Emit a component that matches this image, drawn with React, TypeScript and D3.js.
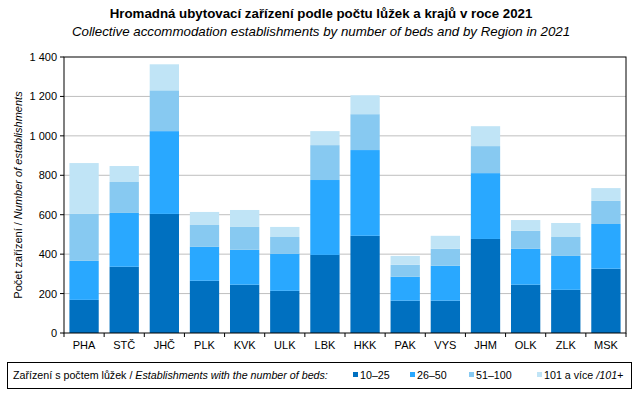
import React from "react";
import * as d3 from "d3";

const regions = ["PHA", "STČ", "JHČ", "PLK", "KVK", "ULK", "LBK", "HKK", "PAK", "VYS", "JHM", "OLK", "ZLK", "MSK"];
const beds10to25 = [168, 336, 604, 265, 245, 214, 396, 493, 164, 164, 477, 245, 219, 326];
const beds26to50 = [198, 273, 420, 172, 177, 187, 380, 435, 121, 177, 334, 182, 172, 227];
const beds51to100 = [238, 157, 207, 111, 116, 86, 177, 182, 61, 86, 137, 91, 96, 117];
const beds101plus = [258, 81, 132, 66, 86, 51, 71, 96, 45, 66, 101, 55, 71, 65];
const seriesKeys = ["s1", "s2", "s3", "s4"];
const seriesLabels = ["10–25", "26–50", "51–100", "101 a více"];
const seriesColors = ["#0070C0", "#29A8FF", "#87C9F1", "#C0E4F6"];
const yTicks = [0, 200, 400, 600, 800, 1000, 1200, 1400];

const W = 639, H = 399;
const M = { left: 64, right: 626, top: 57, bottom: 333 };
const FONT = "'Liberation Sans', Arial, sans-serif";

export default function App() {
  const rows = regions.map((r, i) => ({
    region: r,
    s1: beds10to25[i],
    s2: beds26to50[i],
    s3: beds51to100[i],
    s4: beds101plus[i],
  }));
  const stack = d3.stack<any>().keys(seriesKeys)(rows);
  const x = d3.scaleBand().domain(regions).range([M.left, M.right]).paddingInner(0.27).paddingOuter(0.135);
  const y = d3.scaleLinear().domain([0, 1400]).range([M.bottom, M.top]);
  const fmt = (v: number) => d3.format(",")(v).replace(/,/g, " ");
  const step = (M.right - M.left) / regions.length;
  const legendX = [353, 410, 469, 537];

  return (
    <svg width={W} height={H} style={{ position: "absolute", left: 0, top: 0 }} fontFamily={FONT}>
      <rect x={0} y={0} width={W} height={H} fill="#fff" />
      <text x={321} y={18} textAnchor="middle" fontSize={13.3} fontWeight="bold" fill="#000">
        Hromadná ubytovací zařízení podle počtu lůžek a krajů v roce 2021
      </text>
      <text x={321} y={36} textAnchor="middle" fontSize={13.3} fontStyle="italic" fill="#000">
        Collective accommodation establishments by number of beds and by Region in 2021
      </text>

      {yTicks.filter((t) => t > 0 && t < 1400).map((t) => (
        <line key={t} x1={M.left} x2={M.right} y1={y(t)} y2={y(t)} stroke="#BFBFBF" strokeWidth={1} />
      ))}

      {stack.map((s, si) => (
        <g key={si}>
          {s.map((d: any, i: number) => (
            <rect
              key={i}
              x={x(regions[i])}
              width={x.bandwidth()}
              y={y(d[1])}
              height={y(d[0]) - y(d[1])}
              fill={seriesColors[si]}
            />
          ))}
        </g>
      ))}

      <rect x={M.left} y={M.top} width={M.right - M.left} height={M.bottom - M.top} fill="none" stroke="#000" strokeWidth={1} />

      {yTicks.map((t) => (
        <g key={t}>
          <line x1={M.left - 4} x2={M.left} y1={y(t)} y2={y(t)} stroke="#000" />
          <text x={M.left - 7} y={y(t) + 4} textAnchor="end" fontSize={11} fill="#000">
            {fmt(t)}
          </text>
        </g>
      ))}

      {regions.map((r, i) => (
        <g key={r}>
          <line x1={M.left + step * i} x2={M.left + step * i} y1={M.bottom} y2={M.bottom + 4} stroke="#000" />
          <text x={(x(r) as number) + x.bandwidth() / 2} y={349} textAnchor="middle" fontSize={11} fill="#000">
            {r}
          </text>
        </g>
      ))}
      <line x1={M.right} x2={M.right} y1={M.bottom} y2={M.bottom + 4} stroke="#000" />

      <text transform={`translate(22,${(M.top + M.bottom) / 2}) rotate(-90)`} textAnchor="middle" fontSize={11} fill="#000">
        Počet zařízení / <tspan fontStyle="italic">Number of establishments</tspan>
      </text>

      <rect x={7.5} y={362.5} width={624} height={26} fill="#fff" stroke="#000" strokeWidth={1} />
      <text x={13} y={379} fontSize={10.7} fill="#000">
        Zařízení s počtem lůžek / <tspan fontStyle="italic">Establishments with the number of beds:</tspan>
      </text>
      {seriesLabels.map((l, i) => (
        <g key={l}>
          <rect x={legendX[i]} y={372} width={5} height={5} fill={seriesColors[i]} />
          <text x={legendX[i] + 7} y={379} fontSize={10.7} fill="#000">
            {l}
            {i === 3 ? <tspan fontStyle="italic"> /101+</tspan> : null}
          </text>
        </g>
      ))}
    </svg>
  );
}
